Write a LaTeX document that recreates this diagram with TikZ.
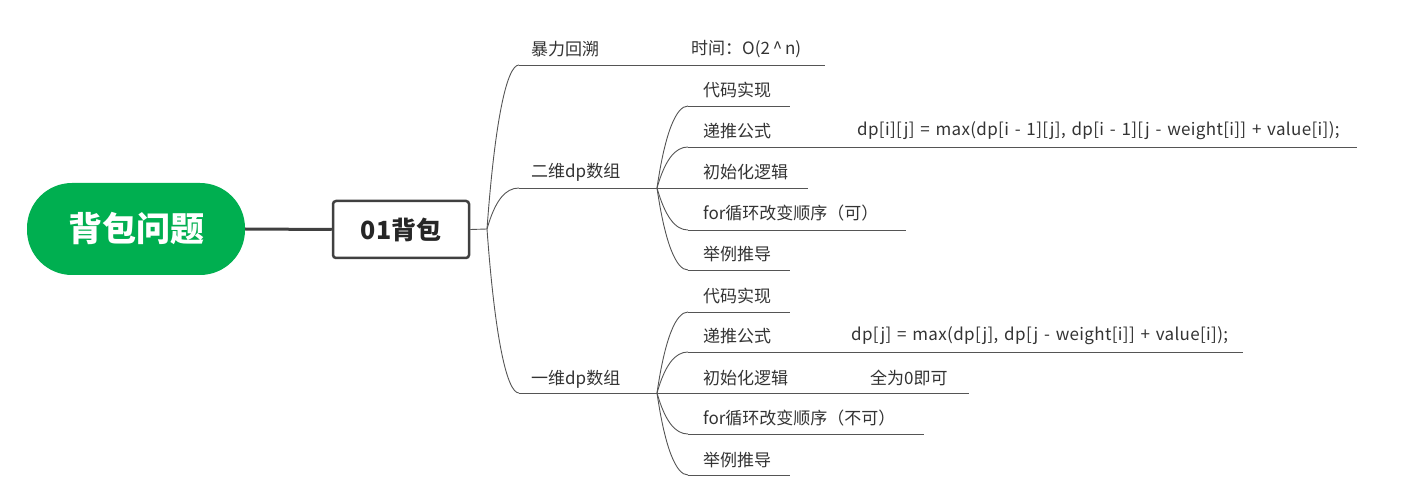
\documentclass[tikz,border=0pt]{standalone}
\usepackage{fontspec}
\setmainfont{Noto Sans CJK SC}
\newfontfamily\formfont{Noto Sans CJK SC}[LetterSpace=2,WordSpace=1.4]
\definecolor{rootgreen}{HTML}{00AF50}
\definecolor{dark}{HTML}{404040}
\definecolor{ln}{HTML}{555555}
\definecolor{txt}{HTML}{333333}
\begin{document}
\begin{tikzpicture}[x=1pt,y=-1pt,
  lbl/.style={anchor=west,text=txt,font=\fontsize{17}{20}\selectfont,inner sep=0pt},
  formula/.style={lbl,font=\formfont\fontsize{17}{20}\selectfont},
  thin/.style={draw=ln,line width=0.9pt},
  rootbox/.style={fill=rootgreen,rounded corners=45pt,minimum width=218pt,minimum height=92pt,inner sep=0pt,text=white,font=\fontsize{34}{38}\selectfont\bfseries},
  mainbox/.style={draw=dark,line width=2.5pt,fill=white,rounded corners=3pt,minimum width=136pt,minimum height=57pt,inner sep=0pt,text=black!85,font=\fontsize{25}{28}\selectfont\bfseries}
]
\useasboundingbox (0,0) rectangle (1406,497);
% root and main
\node[rootbox] (root) at (136,229) {背包问题};
\node[mainbox] (main) at (401,229.5) {01背包};
\draw[dark,line width=3pt] (root.east) -- (main.west);
\coordinate (hub) at (487,229);
\draw[thin] (main.east) -- (hub);

% level 2
\coordinate (bl) at (519,65);  \coordinate (blE) at (825,65);
\coordinate (el) at (519,188); \coordinate (elE) at (657,188);
\coordinate (yl) at (519,393); \coordinate (ylE) at (657,393);
\node[lbl] (bt) at (531,49) {暴力回溯};
\node[lbl] (btc) at (691,49) {时间：O(2\,\textasciicircum\,n)};
\node[lbl] (et) at (531,172) {二维dp数组};
\node[lbl] (yt) at (531,379) {一维dp数组};
\draw[thin] (bl) -- (blE);
\draw[thin] (el) -- (elE);
\draw[thin] (yl) -- (ylE);
\draw[thin] (hub) .. controls +(8,-110) and +(-12,0) .. (bl);
\draw[thin] (hub) .. controls +(8,-28) and +(-14,0) .. (el);
\draw[thin] (hub) .. controls +(8,110) and +(-12,0) .. (yl);

% 2D children
\coordinate (e1) at (688,106); \coordinate (e1E) at (790,106);
\coordinate (e2) at (688,147); \coordinate (e2E) at (1357,147);
\coordinate (e3) at (688,188); \coordinate (e3E) at (808,188);
\coordinate (e4) at (688,230); \coordinate (e4E) at (906,230);
\coordinate (e5) at (688,270); \coordinate (e5E) at (790,270);
\node[lbl] (e1t) at (703,90) {代码实现};
\node[lbl] (e2t) at (703,131) {递推公式};
\node[formula] (e2c) at (857,131) {dp[i][j] = max(dp[i - 1][j], dp[i - 1][j - weight[i]] + value[i]);};
\node[lbl] (e3t) at (703,172) {初始化逻辑};
\node[lbl] (e4t) at (703,213) {for循环改变顺序（可）};
\node[lbl] (e5t) at (703,254) {举例推导};
\foreach \n in {e1,e2,e3,e4,e5} {\draw[thin] (\n) -- (\n E);}
\draw[thin] (elE) .. controls +(8,-55) and +(-12,0) .. (e1);
\draw[thin] (elE) .. controls +(8,-28) and +(-13,0) .. (e2);
\draw[thin] (elE) -- (e3);
\draw[thin] (elE) .. controls +(8,28) and +(-13,0) .. (e4);
\draw[thin] (elE) .. controls +(8,55) and +(-12,0) .. (e5);

% 1D children
\coordinate (y1) at (688,312); \coordinate (y1E) at (790,312);
\coordinate (y2) at (688,352); \coordinate (y2E) at (1243,352);
\coordinate (y3) at (688,393); \coordinate (y3E) at (969,393);
\coordinate (y4) at (688,434); \coordinate (y4E) at (924,434);
\coordinate (y5) at (688,475); \coordinate (y5E) at (790,475);
\node[lbl] (y1t) at (703,296) {代码实现};
\node[lbl] (y2t) at (703,336) {递推公式};
\node[formula] (y2c) at (851,336) {dp[j] = max(dp[j], dp[j - weight[i]] + value[i]);};
\node[lbl] (y3t) at (703,378) {初始化逻辑};
\node[lbl] (y3c) at (870,378) {全为0即可};
\node[lbl] (y4t) at (703,418) {for循环改变顺序（不可）};
\node[lbl] (y5t) at (703,460) {举例推导};
\foreach \n in {y1,y2,y3,y4,y5} {\draw[thin] (\n) -- (\n E);}
\draw[thin] (ylE) .. controls +(8,-55) and +(-12,0) .. (y1);
\draw[thin] (ylE) .. controls +(8,-28) and +(-13,0) .. (y2);
\draw[thin] (ylE) -- (y3);
\draw[thin] (ylE) .. controls +(8,28) and +(-13,0) .. (y4);
\draw[thin] (ylE) .. controls +(8,55) and +(-12,0) .. (y5);
\end{tikzpicture}
\end{document}
